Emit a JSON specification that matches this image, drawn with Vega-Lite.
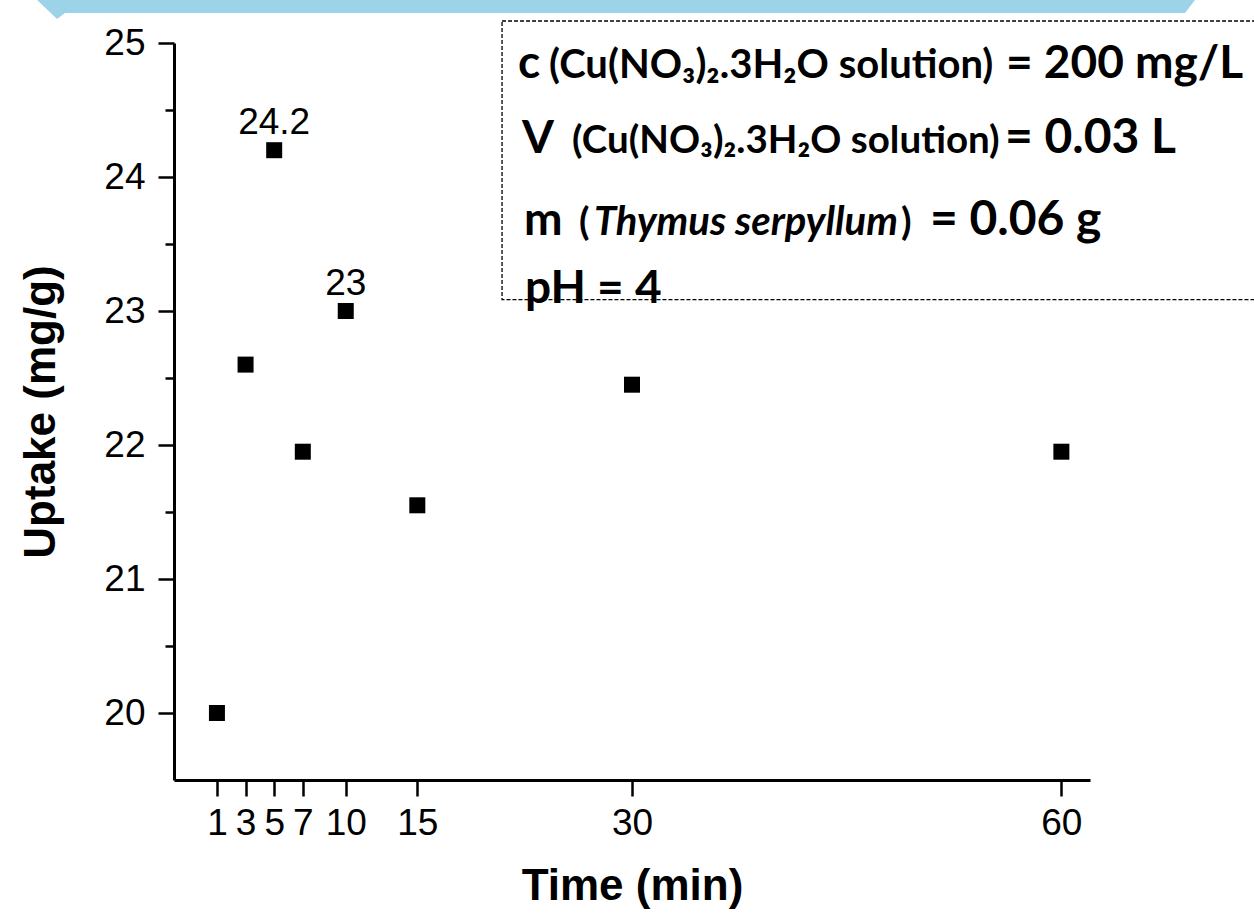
{
  "$schema": "https://vega.github.io/schema/vega-lite/v6.json",
  "width": 916,
  "height": 737,
  "autosize": {"type": "none"},
  "padding": {"left": 174, "top": 43, "right": 164, "bottom": 135},
  "background": "white",
  "config": {
    "view": {"stroke": null},
    "axis": {"labelFont": "Liberation Sans", "titleFont": "Liberation Sans", "grid": false, "labelColor": "black", "titleColor": "black", "tickColor": "black", "domainColor": "black"}
  },
  "datasets": {
    "pts": [
      {"t": 1, "u": 20},
      {"t": 3, "u": 22.6},
      {"t": 5, "u": 24.2},
      {"t": 7, "u": 21.95},
      {"t": 10, "u": 23},
      {"t": 15, "u": 21.55},
      {"t": 30, "u": 22.45},
      {"t": 60, "u": 21.95}
    ],
    "labs": [
      {"t": 5, "u": 24.2, "label": "24.2"},
      {"t": 10, "u": 23, "label": "23"}
    ],
    "banner": [
      {"bx": -11.57, "by": 25.321, "by2": 25.545},
      {"bx": -10.17, "by": 25.179, "by2": 25.545},
      {"bx": -9.616, "by": 25.224, "by2": 25.545},
      {"bx": 68.64, "by": 25.224, "by2": 25.545},
      {"bx": 69.34, "by": 25.321, "by2": 25.545}
    ],
    "box": [
      {"x1": 20.92, "x2": 76.67, "y1": 25.164, "y2": 23.085}
    ],
    "big": [
      {"x": 22.03, "y": 24.739, "text": "c"},
      {"x": 56.13, "y": 24.739, "text": "= 200 mg/L"},
      {"x": 22.31, "y": 24.179, "text": "V"},
      {"x": 22.45, "y": 23.567, "text": "m"},
      {"x": 22.52, "y": 23.06, "text": "pH = 4"}
    ],
    "bigger": [
      {"x": 56.06, "y": 24.179, "text": "= 0.03 L"},
      {"x": 50.82, "y": 23.567, "text": "= 0.06 g"}
    ],
    "small1": [
      {"x": 24.2, "y": 24.739, "text": "(Cu(NO₃)₂.3H₂O solution)"}
    ],
    "small2": [
      {"x": 25.81, "y": 24.179, "text": "(Cu(NO₃)₂.3H₂O solution)"},
      {"x": 26.3, "y": 23.567, "text": "("},
      {"x": 48.79, "y": 23.567, "text": ")"}
    ],
    "ital": [
      {"x": 27.34, "y": 23.567, "text": "Thymus serpyllum"}
    ]
  },
  "resolve": {"axis": {"x": "independent", "y": "independent"}},
  "layer": [
    {
      "data": {"name": "banner"},
      "mark": {"type": "area", "color": "#9dd3e9"},
      "encoding": {
        "x": {"field": "bx", "type": "quantitative", "scale": {"domain": [-2, 62], "nice": false, "zero": false}, "axis": null},
        "y": {"field": "by", "type": "quantitative", "scale": {"domain": [19.5, 25], "nice": false, "zero": false}, "axis": null},
        "y2": {"field": "by2"}
      }
    },
    {
      "data": {"name": "box"},
      "mark": {"type": "rect", "fillOpacity": 0, "stroke": "black", "strokeWidth": 1.3, "strokeDash": [4, 2]},
      "encoding": {
        "x": {"field": "x1", "type": "quantitative", "scale": {"domain": [-2, 62], "nice": false, "zero": false}, "axis": null},
        "x2": {"field": "x2"},
        "y": {"field": "y1", "type": "quantitative", "scale": {"domain": [19.5, 25], "nice": false, "zero": false}, "axis": null},
        "y2": {"field": "y2"}
      }
    },
    {
      "data": {"name": "pts"},
      "mark": {"type": "point", "shape": "square", "filled": true, "size": 256, "color": "black", "opacity": 1},
      "encoding": {
        "x": {
          "field": "t", "type": "quantitative",
          "scale": {"domain": [-2, 62], "nice": false, "zero": false},
          "axis": {"orient": "bottom", "values": [1, 3, 5, 7, 10, 15, 30, 60], "title": "Time (min)", "titleFontSize": 44, "titleFontWeight": "bold", "titlePadding": 23, "labelFontSize": 37, "labelPadding": 9, "tickSize": 16, "tickWidth": 2.5, "domainWidth": 3, "labelOverlap": false, "labelFlush": false, "format": "d"}
        },
        "y": {
          "field": "u", "type": "quantitative",
          "scale": {"domain": [19.5, 25], "nice": false, "zero": false},
          "axis": {"orient": "left", "values": [20, 21, 22, 23, 24, 25], "title": "Uptake (mg/g)", "titleFontSize": 44, "titleFontWeight": "bold", "titlePadding": 40, "labelFontSize": 37, "labelPadding": 13, "tickSize": 16, "tickWidth": 2.5, "domainWidth": 3, "labelOverlap": false, "labelFlush": false, "format": "d"}
        }
      }
    },
    {
      "data": {"name": "labs"},
      "mark": {"type": "text", "font": "Liberation Sans", "fontSize": 37, "baseline": "alphabetic", "align": "center", "dy": -16, "color": "black"},
      "encoding": {
        "x": {"field": "t", "type": "quantitative", "scale": {"domain": [-2, 62], "nice": false, "zero": false}, "axis": null},
        "y": {
          "field": "u", "type": "quantitative",
          "scale": {"domain": [19.5, 25], "nice": false, "zero": false},
          "axis": {"orient": "left", "values": [20.5, 21.5, 22.5, 23.5, 24.5], "labels": false, "domain": false, "title": null, "tickSize": 9, "tickWidth": 2.5}
        },
        "text": {"field": "label"}
      }
    },
    {
      "data": {"name": "big"},
      "mark": {"type": "text", "font": "Lato", "fontWeight": "bold", "fontSize": 46, "align": "left", "baseline": "alphabetic", "color": "black"},
      "encoding": {
        "x": {"field": "x", "type": "quantitative", "scale": {"domain": [-2, 62], "nice": false, "zero": false}, "axis": null},
        "y": {"field": "y", "type": "quantitative", "scale": {"domain": [19.5, 25], "nice": false, "zero": false}, "axis": null},
        "text": {"field": "text"}
      }
    },
    {
      "data": {"name": "bigger"},
      "mark": {"type": "text", "font": "Lato", "fontWeight": "bold", "fontSize": 48, "align": "left", "baseline": "alphabetic", "color": "black"},
      "encoding": {
        "x": {"field": "x", "type": "quantitative", "scale": {"domain": [-2, 62], "nice": false, "zero": false}, "axis": null},
        "y": {"field": "y", "type": "quantitative", "scale": {"domain": [19.5, 25], "nice": false, "zero": false}, "axis": null},
        "text": {"field": "text"}
      }
    },
    {
      "data": {"name": "small1"},
      "mark": {"type": "text", "font": "Lato", "fontWeight": "bold", "fontSize": 40, "align": "left", "baseline": "alphabetic", "color": "black"},
      "encoding": {
        "x": {"field": "x", "type": "quantitative", "scale": {"domain": [-2, 62], "nice": false, "zero": false}, "axis": null},
        "y": {"field": "y", "type": "quantitative", "scale": {"domain": [19.5, 25], "nice": false, "zero": false}, "axis": null},
        "text": {"field": "text"}
      }
    },
    {
      "data": {"name": "small2"},
      "mark": {"type": "text", "font": "Lato", "fontWeight": "bold", "fontSize": 38.5, "align": "left", "baseline": "alphabetic", "color": "black"},
      "encoding": {
        "x": {"field": "x", "type": "quantitative", "scale": {"domain": [-2, 62], "nice": false, "zero": false}, "axis": null},
        "y": {"field": "y", "type": "quantitative", "scale": {"domain": [19.5, 25], "nice": false, "zero": false}, "axis": null},
        "text": {"field": "text"}
      }
    },
    {
      "data": {"name": "ital"},
      "mark": {"type": "text", "font": "Lato", "fontWeight": "bold", "fontStyle": "italic", "fontSize": 40, "align": "left", "baseline": "alphabetic", "color": "black"},
      "encoding": {
        "x": {"field": "x", "type": "quantitative", "scale": {"domain": [-2, 62], "nice": false, "zero": false}, "axis": null},
        "y": {"field": "y", "type": "quantitative", "scale": {"domain": [19.5, 25], "nice": false, "zero": false}, "axis": null},
        "text": {"field": "text"}
      }
    }
  ]
}
